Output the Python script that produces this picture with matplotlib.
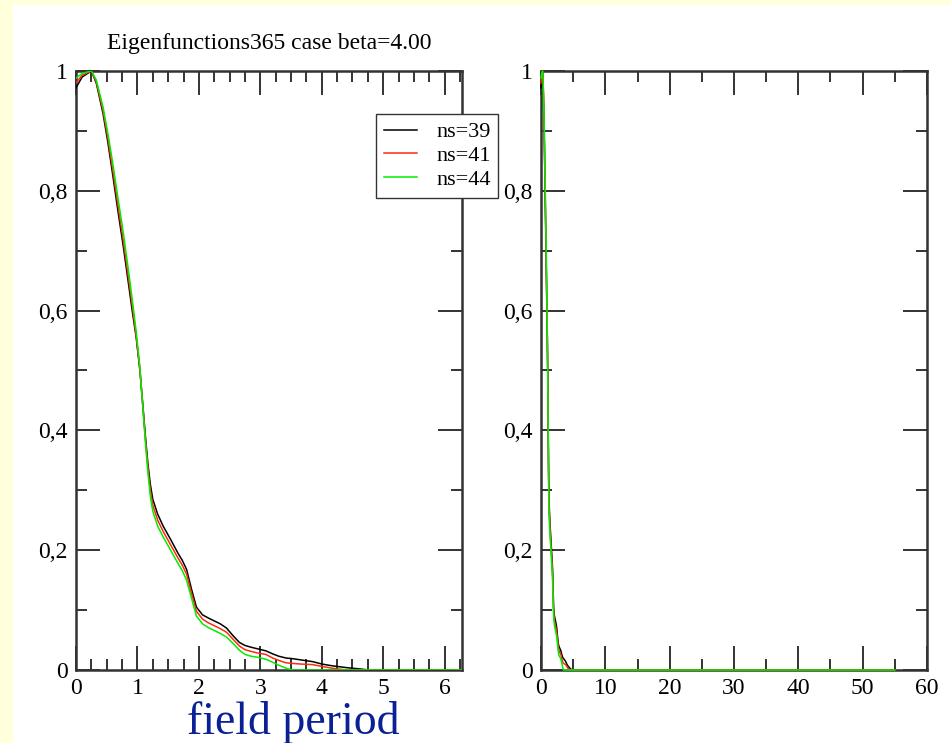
import numpy as np
import matplotlib
matplotlib.use("Agg")
import matplotlib.pyplot as plt
from matplotlib.patches import Rectangle
from matplotlib.ticker import MultipleLocator, FuncFormatter

# field period coordinate (left panel covers 0..2pi, right panel 0..60)
x_pts = [0.0, 0.1, 0.25, 0.33, 0.44, 0.52, 0.6, 0.68, 0.77, 0.85, 0.92, 0.98,
         1.04, 1.09, 1.13, 1.17, 1.21, 1.25, 1.33, 1.42, 1.54, 1.66, 1.73, 1.8,
         1.88, 1.96, 2.06, 2.15, 2.25, 2.35, 2.45, 2.55, 2.66, 2.75, 2.85, 2.97,
         3.09, 3.2, 3.3, 3.42, 3.52, 3.65, 3.85, 4.0, 4.17, 4.4, 4.6, 4.77,
         5.0, 6.3, 10.0, 20.0, 30.0, 40.0, 55.0]

ns39 = [0.972, 0.99, 1.0, 0.98, 0.929, 0.88, 0.825, 0.768, 0.707, 0.648, 0.596, 0.555,
        0.5, 0.44, 0.39, 0.345, 0.31, 0.285, 0.26, 0.24, 0.218, 0.195, 0.183, 0.168,
        0.135, 0.105, 0.092, 0.087, 0.082, 0.077, 0.07, 0.058, 0.046, 0.041, 0.038, 0.035,
        0.032, 0.027, 0.023, 0.02, 0.019, 0.017, 0.014, 0.01, 0.007, 0.004, 0.002, 0.0,
        0.0, 0.0, 0.0, 0.0, 0.0, 0.0, 0.0]
ns41 = [0.98, 0.993, 1.0, 0.982, 0.934, 0.887, 0.834, 0.778, 0.717, 0.658, 0.605, 0.557,
        0.503, 0.437, 0.385, 0.338, 0.3, 0.275, 0.25, 0.231, 0.209, 0.187, 0.175, 0.16,
        0.128, 0.098, 0.085, 0.079, 0.074, 0.069, 0.063, 0.052, 0.04, 0.034, 0.031, 0.028,
        0.026, 0.02, 0.016, 0.012, 0.011, 0.01, 0.009, 0.006, 0.003, 0.0, 0.0, 0.0,
        0.0, 0.0, 0.0, 0.0, 0.0, 0.0, 0.0]
ns44 = [0.988, 0.996, 1.0, 0.985, 0.94, 0.895, 0.845, 0.79, 0.73, 0.67, 0.615, 0.565,
        0.505, 0.435, 0.38, 0.33, 0.29, 0.265, 0.24, 0.222, 0.2, 0.178, 0.166, 0.15,
        0.12, 0.09, 0.077, 0.071, 0.066, 0.061, 0.055, 0.045, 0.033, 0.026, 0.023, 0.021,
        0.018, 0.013, 0.008, 0.003, 0.0, 0.0, 0.0, 0.0, 0.0, 0.0, 0.0, 0.0,
        0.0, 0.0, 0.0, 0.0, 0.0, 0.0, 0.0]

series = [("ns=39", ns39, "black"), ("ns=41", ns41, "#ff2a10"), ("ns=44", ns44, "#00ee00")]

plt.rcParams["font.family"] = ["Liberation Serif", "DejaVu Serif"]

fig = plt.figure(figsize=(9.51, 7.43), dpi=100)
fig.patch.set_facecolor("#ffffdc")
fig.add_artist(Rectangle((13 / 951, 0), 1 - 13 / 951, 1 - 5 / 743,
                         transform=fig.transFigure, facecolor="white",
                         edgecolor="none", zorder=0))

bottom = 1 - 670 / 743
height = (670 - 71) / 743
ax1 = fig.add_axes([76 / 951, bottom, (462 - 76) / 951, height])
ax2 = fig.add_axes([541 / 951, bottom, (927 - 541) / 951, height])

comma = FuncFormatter(lambda v, p: ("%g" % round(v, 3)).replace(".", ","))

for ax in (ax1, ax2):
    # right panel: let the zero tail sit on top of the bottom spine
    unclip = ax is ax2
    for name, ys, col in series:
        ax.plot(x_pts, ys, color=col, lw=1.1, label=name, clip_on=not unclip, zorder=3)
    ax.set_ylim(0, 1)
    ax.yaxis.set_major_locator(MultipleLocator(0.2))
    ax.yaxis.set_minor_locator(MultipleLocator(0.1))
    ax.yaxis.set_major_formatter(comma)
    ax.tick_params(which="both", direction="in", top=True, right=True,
                   width=1.4, color="#333333", labelsize=17)
    ax.tick_params(which="major", length=17)
    ax.tick_params(which="minor", length=8)
    ax.tick_params(axis="y", pad=6)
    ax.tick_params(axis="x", pad=6)
    for s in ax.spines.values():
        s.set_linewidth(1.8)
        s.set_color("#333333")

ax1.set_xlim(0, 2 * np.pi)
ax1.xaxis.set_major_locator(MultipleLocator(1))
ax1.xaxis.set_minor_locator(MultipleLocator(0.25))

ax2.set_xlim(0, 60)
ax2.xaxis.set_major_locator(MultipleLocator(10))
ax2.xaxis.set_minor_locator(MultipleLocator(5))

ax1.set_title("Eigenfunctions365 case beta=4.00", fontsize=17, pad=16)

leg = ax1.legend(loc="upper left", bbox_to_anchor=(376 / 951, 1 - 114 / 743),
                 bbox_transform=fig.transFigure, borderaxespad=0, fontsize=16,
                 fancybox=False, framealpha=1, edgecolor="#333333",
                 handlelength=1.5, handletextpad=0.85, labelspacing=0.15,
                 borderpad=0.35)
leg.get_frame().set_linewidth(1.0)
leg.set_zorder(5)

fig.text(187 / 951, 1 - 723 / 743, "field period", fontsize=33,
         color="#0a2196", va="center", ha="left")

fig.savefig("out.png", dpi=100, facecolor=fig.get_facecolor())
